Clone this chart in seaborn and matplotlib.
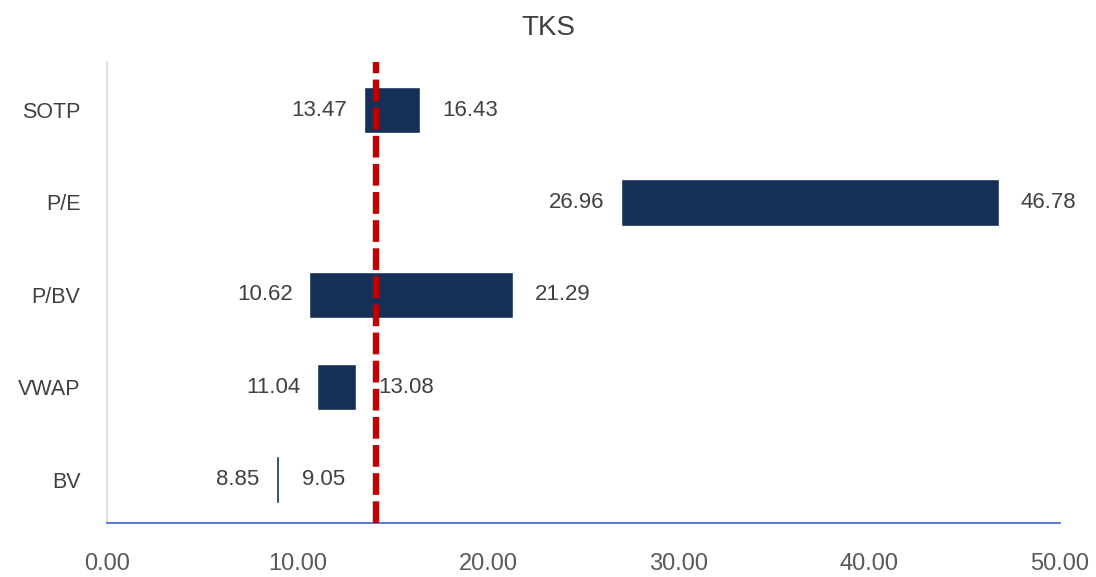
import matplotlib
matplotlib.use("Agg")
import matplotlib.pyplot as plt
import seaborn as sns
import pandas as pd

# valuation ranges (football field)
methods = ["SOTP", "P/E", "P/BV", "VWAP", "BV"]
low_vals = [13.47, 26.96, 10.62, 11.04, 8.85]
high_vals = [16.43, 46.78, 21.29, 13.08, 9.05]
current_price = 14.1
xticks = [0, 10, 20, 30, 40, 50]

df = pd.DataFrame({"method": methods, "low": low_vals, "high": high_vals})

sns.set_theme(style="white")
plt.rcParams["font.family"] = ["Liberation Sans", "DejaVu Sans"]

fig = plt.figure(figsize=(10.96, 5.77), dpi=100)
ax = fig.add_axes([0.0976, 0.0936, 0.8696, 0.7989])

sns.barplot(data=df, y="method", x="high", orient="h", color="#152F56",
            width=0.5, saturation=1, ax=ax)

# turn the bars into floating ranges low -> high
for p, lo, hi in zip(ax.patches, df["low"], df["high"]):
    p.set_x(lo)
    p.set_width(hi - lo)

for i, (lo, hi) in enumerate(zip(df["low"], df["high"])):
    ax.annotate(f"{lo:.2f}", (lo, i), xytext=(-12, 0), textcoords="offset points",
                ha="right", va="center", fontsize=16, color="#404040")
    ax.annotate(f"{hi:.2f}", (hi, i), xytext=(16, 0), textcoords="offset points",
                ha="left", va="center", fontsize=16, color="#404040")

ax.axvline(current_price, color="#C00000", lw=4.6, ls=(0, (3.4, 1.0)), zorder=3)

ax.set_xlim(0, 50)
ax.set_ylim(4.47, -0.52)
ax.set_xticks(xticks)
ax.set_xticklabels([f"{t:.2f}" for t in xticks])
ax.set_xlabel("")
ax.set_ylabel("")
ax.tick_params(axis="x", length=0, pad=21.5, labelsize=17, labelcolor="#595959")
ax.tick_params(axis="y", length=0, pad=19, labelsize=15.5, labelcolor="#404040")

for s in ["top", "right"]:
    ax.spines[s].set_visible(False)
ax.spines["left"].set_color("#D9D9D9")
ax.spines["left"].set_linewidth(1.2)
ax.spines["bottom"].set_color("#4472C4")
ax.spines["bottom"].set_linewidth(1.3)

fig.text(0.5, 0.952, "TKS", ha="center", va="center", fontsize=20, color="#404040")

fig.savefig("out.png", dpi=100)
